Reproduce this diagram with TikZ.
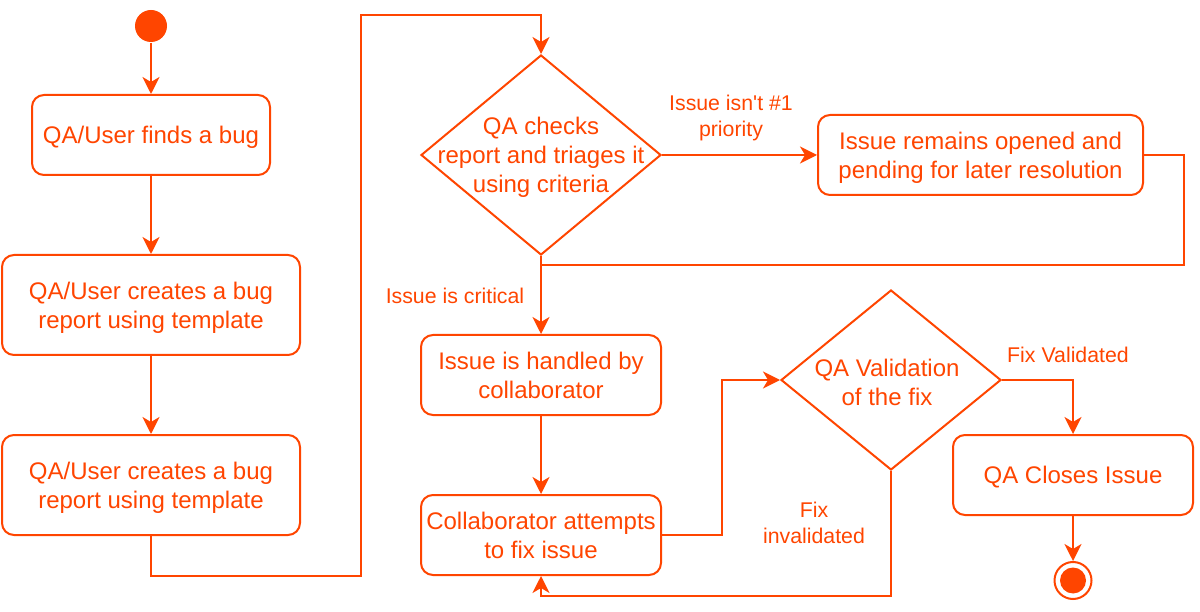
\documentclass[tikz,border=0pt]{standalone}
\usepackage{fontspec}
\setmainfont{Liberation Sans}[Ligatures=TeXOff]
\usetikzlibrary{shapes.geometric,arrows.meta}
\definecolor{oc}{RGB}{255,69,0}
\newcommand{\mlines}[1]{\begin{tabular}{@{}c@{}}\rule{0pt}{26pt}#1\end{tabular}}
\begin{document}
\begin{tikzpicture}[x=1pt,y=-1pt,line width=2pt,
  box/.style={draw=oc, rounded corners=12pt, fill=white, text=oc, align=center, inner sep=0pt,
    font=\fontsize{24}{29}\selectfont},
  dia/.style={draw=oc, diamond, inner sep=0pt},
  txt/.style={text=oc, align=center, inner sep=0pt, font=\fontsize{24}{29}\selectfont},
  lbl/.style={text=oc, align=center, inner sep=0pt, font=\fontsize{21.3}{26}\selectfont},
  arr/.style={draw=oc, -{Stealth[length=17pt,width=17pt,inset=5pt]}},
  con/.style={draw=oc}]
\useasboundingbox (0,0) rectangle (1200,612);

\node[fill=oc, circle, minimum size=32pt, inner sep=0pt] (start) at (151,26) {};
\node[box, minimum width=238pt, minimum height=80pt] (b1) at (151,135) {\mlines{QA/User finds a bug}};
\node[box, minimum width=298pt, minimum height=100pt] (b2) at (151,305) {\mlines{QA/User creates a bug\\report using template}};
\node[box, minimum width=298pt, minimum height=100pt] (b3) at (151,485) {\mlines{QA/User creates a bug\\report using template}};
\node[dia, minimum width=240pt, minimum height=200pt] (d1) at (541,155) {};
\node[txt] (d1t) at (541,157) {QA checks\\report and triages it\\using criteria};
\node[box, minimum width=325pt, minimum height=80pt] (b4) at (980.5,155) {\mlines{Issue remains opened and\\pending for later resolution}};
\node[box, minimum width=240pt, minimum height=80pt] (b5) at (541,375) {\mlines{Issue is handled by\\collaborator}};
\node[box, minimum width=240pt, minimum height=80pt] (b6) at (541,535) {\mlines{Collaborator attempts\\to fix issue}};
\node[dia, minimum width=220pt, minimum height=180pt] (d2) at (891,380) {};
\node[txt] (d2t) at (887,382) {QA Validation\\of the fix};
\node[box, minimum width=240pt, minimum height=80pt] (b7) at (1073,475) {\mlines{QA Closes Issue}};
\node[circle, draw=oc, minimum size=37pt, inner sep=0pt] (end) at (1073,580.5) {};
\node[circle, fill=oc, minimum size=26pt, inner sep=0pt] (endi) at (1073,580.5) {};

\draw[arr] (start) -- (b1);
\draw[arr] (b1) -- (b2);
\draw[arr] (b2) -- (b3);
\draw[arr] (b3.south) -- ++(0,40) -| (361,15) -| (d1.north);
\draw[arr] (d1.east) -- (b4.west);
\node[lbl] (l1) at (731,118) {Issue isn't \#1\\priority};
\draw[con] (b4.east) -- ++(40,0) |- (541,265);
\draw[arr] (d1.south) -- (b5.north);
\node[lbl] (l2) at (455,296) {Issue is critical};
\draw[arr] (b5) -- (b6);
\draw[arr] (b6.east) -- ++(60,0) |- (d2.west);
\draw[arr] (d2.east) -| (b7.north);
\node[lbl] (l3) at (1068,355) {Fix Validated};
\draw[arr] (b7) -- (end);
\draw[arr] (d2.south) -- ++(0,125) -| (b6.south);
\node[lbl] (l4) at (814,523) {Fix\\invalidated};
\end{tikzpicture}
\end{document}
